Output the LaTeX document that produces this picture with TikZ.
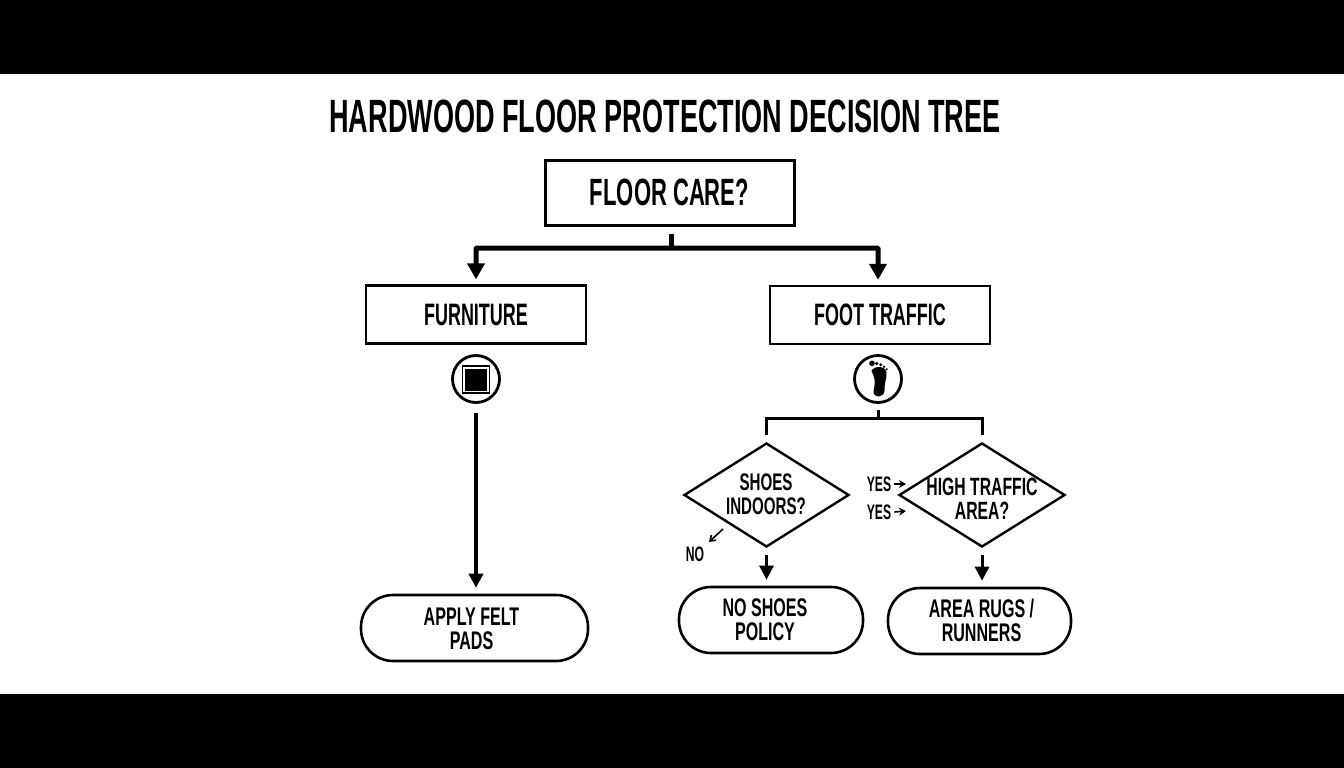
\documentclass[tikz,border=0pt]{standalone}
\usepackage{fontspec}
\setmainfont[FakeStretch=0.58]{Liberation Sans}
\newfontfamily\widerface[FakeStretch=0.63]{Liberation Sans}
\usetikzlibrary{shapes.geometric,arrows.meta,calc}
\tikzset{
  x=1pt,y=-1pt,
  boxthick/.style={draw=black,line width=3pt,minimum width=249pt,minimum height=65pt,inner sep=0pt},
  boxthin/.style={draw=black,line width=2.4pt,minimum width=220pt,minimum height=58pt,inner sep=0pt},
  pill/.style={draw=black,line width=2.6pt,rounded corners=32pt,inner sep=0pt,align=center},
  choice/.style={draw=black,line width=2.4pt,diamond,inner sep=0pt,aspect=1.6},
  iconring/.style={draw=black,line width=2.8pt,circle,minimum size=47pt,inner sep=0pt},
  btext/.style={font=\fontsize{#1}{#1}\selectfont\bfseries,align=center,inner sep=0pt},
  twoline/.style={font=\widerface\fontsize{#1}{24}\selectfont\bfseries,align=center,inner sep=0pt},
  heavy/.style={line width=5pt,black},
  medium/.style={line width=4pt,black},
  light/.style={line width=3pt,black},
  bigtip/.style={-{Triangle[width=17pt,length=16pt]}},
  midtip/.style={-{Triangle[width=14pt,length=14pt]}},
  tinytip/.style={-{Stealth[width=8pt,length=7pt]}},
}
\begin{document}
\begin{tikzpicture}
\useasboundingbox (0,0) rectangle (1344,768);
\fill[black] (0,0) rectangle (1344,74);
\fill[black] (0,694) rectangle (1344,768);
\node[btext=46.7] (title) at (665,116) {HARDWOOD FLOOR PROTECTION DECISION TREE};
\node[boxthick,btext=38] (floor) at (669.5,192.5) {FLOOR CARE?};
\node[boxthin,btext=31] (furn) at (476,314.5) {FURNITURE};
\node[boxthin,btext=31] (foot) at (880,315) {FOOT TRAFFIC};
\node[iconring] (furnicon) at (476,379) {};
\node[iconring] (footicon) at (878,379) {};
\node[draw=black,line width=1.2pt,minimum size=27pt,inner sep=0pt] (sqo) at (476,379.5) {};
\node[fill=black,minimum size=22pt,inner sep=0pt] (sqi) at (476,379.5) {};
% foot glyph
\fill[black] (871.5,371) .. controls (873,366) and (885,365) .. (886.5,372)
  .. controls (887,378) and (884,384) .. (884.5,390)
  .. controls (885,398) and (873,399) .. (873.5,391)
  .. controls (874,386) and (877,382) .. (871.5,371) -- cycle;
\fill[black] (872,363.3) circle (2.8pt) (876.7,363.5) circle (1.9pt) (880.7,364.7) circle (1.6pt) (884,366.7) circle (1.3pt) (886.7,369.3) circle (1.1pt);
\node[pill,minimum width=227pt,minimum height=66pt] (felt) at (474.5,628) {};
\node[pill,minimum width=184pt,minimum height=66pt] (noshoes) at (771,620) {};
\node[pill,minimum width=183pt,minimum height=66pt] (rugs) at (979.5,621) {};
\node[twoline=25.5] (felttxt) at (471.5,629) {APPLY FELT\\PADS};
\node[twoline=25.5] (noshoestxt) at (765,620) {NO SHOES\\POLICY};
\node[twoline=25.5] (rugstxt) at (981.5,620) {AREA RUGS /\\RUNNERS};
\node[choice,minimum width=165pt,minimum height=104pt] (shoes) at (766.5,495) {};
\node[choice,minimum width=166pt,minimum height=104pt] (high) at (982,495) {};
\node[twoline=24] (shoestxt) at (766,494) {SHOES\\INDOORS?};
\node[twoline=25] (hightxt) at (982,499) {HIGH TRAFFIC\\AREA?};
\node[btext=21] (yesa) at (879,484) {YES};
\node[btext=21] (yesb) at (879,512) {YES};
\node[btext=21] (no) at (695,554) {NO};
\coordinate (yesat) at (906,484);
\coordinate (yesbt) at (906,511);
\coordinate (noa) at (723,529);
\coordinate (nob) at (709,542);
\coordinate (jn) at (671,248);
\coordinate (br) at (878,418);
% connectors
\draw[heavy,shorten <=7pt] (floor.south -| jn) -- (jn);
\draw[heavy,bigtip,rounded corners=1pt,shorten >=5pt] (jn) -| (furn.north);
\draw[heavy,bigtip,rounded corners=1pt,shorten >=5pt] (jn) -| (footicon |- foot.north);
\draw[medium,midtip,shorten <=9pt,shorten >=6pt] (furnicon.south) -- (felt.north -| furnicon);
\draw[light,shorten <=6pt] (footicon.south) -- (br);
\draw[light,shorten >=7pt] (br) -| (shoes.north);
\draw[light,shorten >=7pt] (br) -| (high.north);
\draw[light,midtip,shorten <=7pt,shorten >=6pt] (shoes.south) -- (noshoes.north -| shoes);
\draw[light,midtip,shorten <=7pt,shorten >=6pt] (high.south) -- (rugs.north -| high);
\draw[line width=1.6pt,tinytip] (yesa.east) ++(3pt,0) -- (yesat);
\draw[line width=1.6pt,tinytip] (yesb.east) ++(3pt,0) -- (yesbt);
\draw[line width=1.6pt,-{Straight Barb[width=7pt,length=5pt]}] (noa) -- (nob);
\end{tikzpicture}
\end{document}
